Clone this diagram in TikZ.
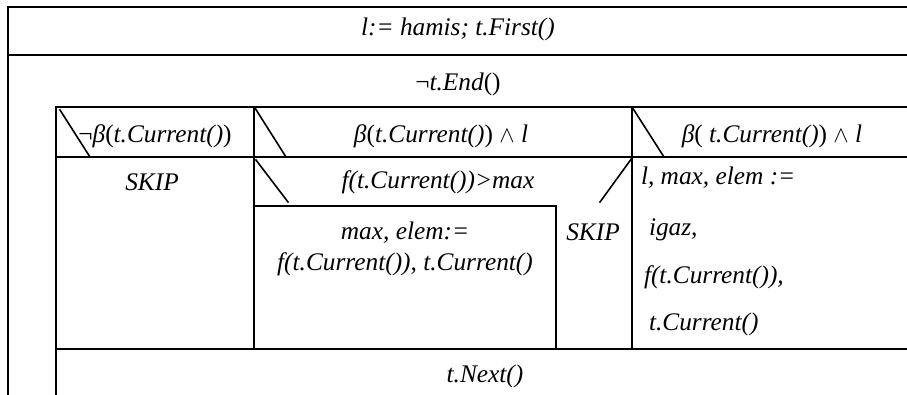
\documentclass[tikz,border=0pt]{standalone}
\usepackage{fontspec}
\setmainfont{Liberation Serif}

\begin{document}
\begin{tikzpicture}[x=0.75pt,y=-0.75pt,line width=1.5pt,line cap=rect,
			font=\fontsize{19}{23}\selectfont\itshape]
	\tikzstyle{txt}=[inner sep=0pt,align=center]
	\tikzstyle{ltxt}=[inner sep=0pt,anchor=west]

	\useasboundingbox (0,0) rectangle (907,394);

	% frame of the loop and its body
	\draw (907,7) -- (8,7) -- (8,394);
	\draw (8,55) -- (907,55);
	\draw (907,107) -- (56,107) -- (56,394);
	\draw (56,157) -- (907,157);
	\draw (56,349) -- (907,349);
	\draw (254,107) -- (254,349);
	\draw (632,107) -- (632,349);
	\draw (254,206) -- (556,206);
	\draw (556,206) -- (556,349);

	% branch corners
	\draw[line width=1.2pt] (60,110) -- (90,157);
	\draw[line width=1.2pt] (255,108) -- (286,157);
	\draw[line width=1.2pt] (632,107) -- (664,157);
	\draw[line width=1.2pt] (256,160) -- (288,202);
	\draw[line width=1.2pt] (632,158) -- (600,202);

	\node[txt] (init)	at (458,29)	{l:= hamis; t.First()};
	\node[txt] (loop)	at (458,84)	{{\upshape¬}t.End{\upshape()}};
	\node[txt] (br1)	at (155,136)	{{\upshape¬}β{\upshape(}t.Current(){\upshape)}};
	\node[txt] (br2)	at (441,136)	{β{\upshape(}t.Current(){\upshape)} $\wedge$ l};
	\node[txt] (br3)	at (772,136)	{β{\upshape(} t.Current(){\upshape)} $\wedge$ l};
	\node[txt] (skip1)	at (152,182)	{SKIP};
	\node[txt] (cond)	at (438,182)	{f(t.Current())>max};
	\node[txt] (assign)	at (405,249)	{max, elem:=\\f(t.Current()), t.Current()};
	\node[txt] (skip2)	at (593,232)	{SKIP};
	\node[ltxt] (set1)	at (640,178)	{l, max, elem :=};
	\node[ltxt] (set2)	at (648,230)	{igaz,};
	\node[ltxt] (set3)	at (643,277)	{f(t.Current()),};
	\node[ltxt] (set4)	at (648,324)	{t.Current()};
	\node[txt] (next)	at (485,376)	{t.Next()};
\end{tikzpicture}
\end{document}
